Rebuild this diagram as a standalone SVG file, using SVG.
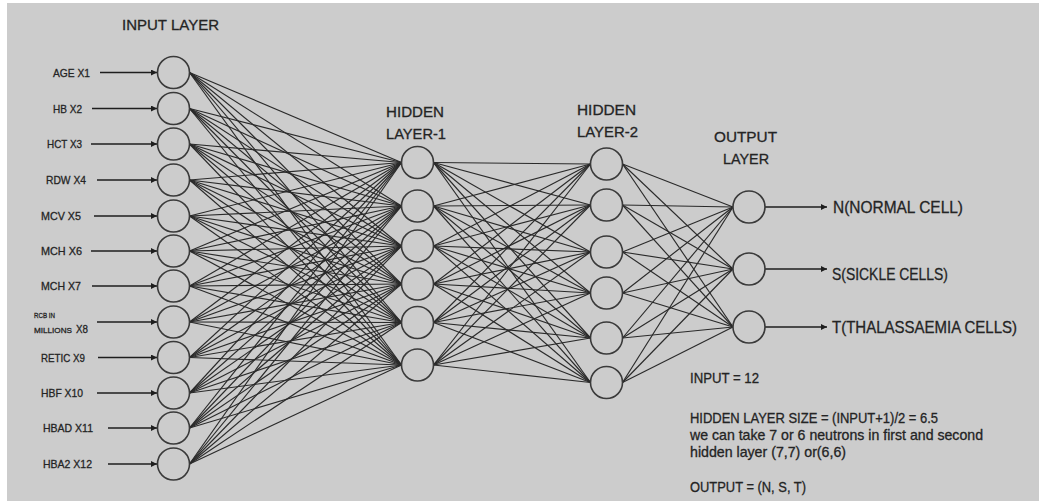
<svg xmlns="http://www.w3.org/2000/svg" width="1039" height="501" viewBox="0 0 1039 501">
<style>
  .node circle{fill:#cccccc;stroke:#3a3a3a;stroke-width:1.6}
  .t{font-family:"Liberation Sans",Arial,sans-serif;fill:#242424;stroke:#242424;stroke-width:0.3}
  .lbl{font-size:11.5px}
  .ttl{font-size:15.5px}
  .out{font-size:16.5px}
  .note{font-size:14.5px}
  #connectors line{stroke:#2a2a2a;stroke-width:1.15}
  #arrows line{stroke:#1e1e1e;stroke-width:1.5}
</style>
<defs>
  <marker id="ah" markerUnits="userSpaceOnUse" markerWidth="6" markerHeight="6" refX="6" refY="3" orient="auto">
    <path d="M0,0 L6,3 L0,6 z" fill="#1e1e1e"/>
  </marker>
</defs>
<rect x="0" y="0" width="1039" height="501" fill="#ffffff"/>
<rect x="7" y="3" width="1032" height="498" fill="#cccccc"/>

<g id="connectors">
  <line x1="189.5" y1="72.5" x2="401.5" y2="162.5"/><line x1="189.5" y1="72.5" x2="401.5" y2="206"/><line x1="189.5" y1="72.5" x2="401.5" y2="246"/><line x1="189.5" y1="72.5" x2="401.5" y2="284"/><line x1="189.5" y1="72.5" x2="401.5" y2="322.5"/><line x1="189.5" y1="72.5" x2="401.5" y2="365"/>
  <line x1="189.5" y1="108.5" x2="401.5" y2="162.5"/><line x1="189.5" y1="108.5" x2="401.5" y2="206"/><line x1="189.5" y1="108.5" x2="401.5" y2="246"/><line x1="189.5" y1="108.5" x2="401.5" y2="284"/><line x1="189.5" y1="108.5" x2="401.5" y2="322.5"/><line x1="189.5" y1="108.5" x2="401.5" y2="365"/>
  <line x1="189.5" y1="144" x2="401.5" y2="162.5"/><line x1="189.5" y1="144" x2="401.5" y2="206"/><line x1="189.5" y1="144" x2="401.5" y2="246"/><line x1="189.5" y1="144" x2="401.5" y2="284"/><line x1="189.5" y1="144" x2="401.5" y2="322.5"/><line x1="189.5" y1="144" x2="401.5" y2="365"/>
  <line x1="189.5" y1="180" x2="401.5" y2="162.5"/><line x1="189.5" y1="180" x2="401.5" y2="206"/><line x1="189.5" y1="180" x2="401.5" y2="246"/><line x1="189.5" y1="180" x2="401.5" y2="284"/><line x1="189.5" y1="180" x2="401.5" y2="322.5"/><line x1="189.5" y1="180" x2="401.5" y2="365"/>
  <line x1="189.5" y1="216" x2="401.5" y2="162.5"/><line x1="189.5" y1="216" x2="401.5" y2="206"/><line x1="189.5" y1="216" x2="401.5" y2="246"/><line x1="189.5" y1="216" x2="401.5" y2="284"/><line x1="189.5" y1="216" x2="401.5" y2="322.5"/><line x1="189.5" y1="216" x2="401.5" y2="365"/>
  <line x1="189.5" y1="251" x2="401.5" y2="162.5"/><line x1="189.5" y1="251" x2="401.5" y2="206"/><line x1="189.5" y1="251" x2="401.5" y2="246"/><line x1="189.5" y1="251" x2="401.5" y2="284"/><line x1="189.5" y1="251" x2="401.5" y2="322.5"/><line x1="189.5" y1="251" x2="401.5" y2="365"/>
  <line x1="189.5" y1="286" x2="401.5" y2="162.5"/><line x1="189.5" y1="286" x2="401.5" y2="206"/><line x1="189.5" y1="286" x2="401.5" y2="246"/><line x1="189.5" y1="286" x2="401.5" y2="284"/><line x1="189.5" y1="286" x2="401.5" y2="322.5"/><line x1="189.5" y1="286" x2="401.5" y2="365"/>
  <line x1="189.5" y1="322" x2="401.5" y2="162.5"/><line x1="189.5" y1="322" x2="401.5" y2="206"/><line x1="189.5" y1="322" x2="401.5" y2="246"/><line x1="189.5" y1="322" x2="401.5" y2="284"/><line x1="189.5" y1="322" x2="401.5" y2="322.5"/><line x1="189.5" y1="322" x2="401.5" y2="365"/>
  <line x1="189.5" y1="357.5" x2="401.5" y2="162.5"/><line x1="189.5" y1="357.5" x2="401.5" y2="206"/><line x1="189.5" y1="357.5" x2="401.5" y2="246"/><line x1="189.5" y1="357.5" x2="401.5" y2="284"/><line x1="189.5" y1="357.5" x2="401.5" y2="322.5"/><line x1="189.5" y1="357.5" x2="401.5" y2="365"/>
  <line x1="189.5" y1="393" x2="401.5" y2="162.5"/><line x1="189.5" y1="393" x2="401.5" y2="206"/><line x1="189.5" y1="393" x2="401.5" y2="246"/><line x1="189.5" y1="393" x2="401.5" y2="284"/><line x1="189.5" y1="393" x2="401.5" y2="322.5"/><line x1="189.5" y1="393" x2="401.5" y2="365"/>
  <line x1="189.5" y1="428" x2="401.5" y2="162.5"/><line x1="189.5" y1="428" x2="401.5" y2="206"/><line x1="189.5" y1="428" x2="401.5" y2="246"/><line x1="189.5" y1="428" x2="401.5" y2="284"/><line x1="189.5" y1="428" x2="401.5" y2="322.5"/><line x1="189.5" y1="428" x2="401.5" y2="365"/>
  <line x1="189.5" y1="464" x2="401.5" y2="162.5"/><line x1="189.5" y1="464" x2="401.5" y2="206"/><line x1="189.5" y1="464" x2="401.5" y2="246"/><line x1="189.5" y1="464" x2="401.5" y2="284"/><line x1="189.5" y1="464" x2="401.5" y2="322.5"/><line x1="189.5" y1="464" x2="401.5" y2="365"/>
  <line x1="433.5" y1="162.5" x2="590.5" y2="164"/><line x1="433.5" y1="162.5" x2="590.5" y2="205"/><line x1="433.5" y1="162.5" x2="590.5" y2="252"/><line x1="433.5" y1="162.5" x2="590.5" y2="293"/><line x1="433.5" y1="162.5" x2="590.5" y2="338"/><line x1="433.5" y1="162.5" x2="590.5" y2="382.5"/>
  <line x1="433.5" y1="206" x2="590.5" y2="164"/><line x1="433.5" y1="206" x2="590.5" y2="205"/><line x1="433.5" y1="206" x2="590.5" y2="252"/><line x1="433.5" y1="206" x2="590.5" y2="293"/><line x1="433.5" y1="206" x2="590.5" y2="338"/><line x1="433.5" y1="206" x2="590.5" y2="382.5"/>
  <line x1="433.5" y1="246" x2="590.5" y2="164"/><line x1="433.5" y1="246" x2="590.5" y2="205"/><line x1="433.5" y1="246" x2="590.5" y2="252"/><line x1="433.5" y1="246" x2="590.5" y2="293"/><line x1="433.5" y1="246" x2="590.5" y2="338"/><line x1="433.5" y1="246" x2="590.5" y2="382.5"/>
  <line x1="433.5" y1="284" x2="590.5" y2="164"/><line x1="433.5" y1="284" x2="590.5" y2="205"/><line x1="433.5" y1="284" x2="590.5" y2="252"/><line x1="433.5" y1="284" x2="590.5" y2="293"/><line x1="433.5" y1="284" x2="590.5" y2="338"/><line x1="433.5" y1="284" x2="590.5" y2="382.5"/>
  <line x1="433.5" y1="322.5" x2="590.5" y2="164"/><line x1="433.5" y1="322.5" x2="590.5" y2="205"/><line x1="433.5" y1="322.5" x2="590.5" y2="252"/><line x1="433.5" y1="322.5" x2="590.5" y2="293"/><line x1="433.5" y1="322.5" x2="590.5" y2="338"/><line x1="433.5" y1="322.5" x2="590.5" y2="382.5"/>
  <line x1="433.5" y1="365" x2="590.5" y2="164"/><line x1="433.5" y1="365" x2="590.5" y2="205"/><line x1="433.5" y1="365" x2="590.5" y2="252"/><line x1="433.5" y1="365" x2="590.5" y2="293"/><line x1="433.5" y1="365" x2="590.5" y2="338"/><line x1="433.5" y1="365" x2="590.5" y2="382.5"/>
  <line x1="622.5" y1="164" x2="733" y2="207"/><line x1="622.5" y1="164" x2="733" y2="269"/><line x1="622.5" y1="164" x2="733" y2="327"/>
  <line x1="622.5" y1="205" x2="733" y2="207"/><line x1="622.5" y1="205" x2="733" y2="269"/><line x1="622.5" y1="205" x2="733" y2="327"/>
  <line x1="622.5" y1="252" x2="733" y2="207"/><line x1="622.5" y1="252" x2="733" y2="269"/><line x1="622.5" y1="252" x2="733" y2="327"/>
  <line x1="622.5" y1="293" x2="733" y2="207"/><line x1="622.5" y1="293" x2="733" y2="269"/><line x1="622.5" y1="293" x2="733" y2="327"/>
  <line x1="622.5" y1="338" x2="733" y2="207"/><line x1="622.5" y1="338" x2="733" y2="269"/><line x1="622.5" y1="338" x2="733" y2="327"/>
  <line x1="622.5" y1="382.5" x2="733" y2="207"/><line x1="622.5" y1="382.5" x2="733" y2="269"/><line x1="622.5" y1="382.5" x2="733" y2="327"/>
</g>

<g id="arrows">
  <line x1="100" y1="72.5" x2="157" y2="72.5" marker-end="url(#ah)"/>
  <line x1="92" y1="108.5" x2="157" y2="108.5" marker-end="url(#ah)"/>
  <line x1="91" y1="144" x2="157" y2="144" marker-end="url(#ah)"/>
  <line x1="97" y1="180" x2="157" y2="180" marker-end="url(#ah)"/>
  <line x1="94" y1="216" x2="157" y2="216" marker-end="url(#ah)"/>
  <line x1="91" y1="251" x2="157" y2="251" marker-end="url(#ah)"/>
  <line x1="92" y1="286" x2="157" y2="286" marker-end="url(#ah)"/>
  <line x1="97" y1="322" x2="157" y2="322" marker-end="url(#ah)"/>
  <line x1="98" y1="357.5" x2="157" y2="357.5" marker-end="url(#ah)"/>
  <line x1="97" y1="393" x2="157" y2="393" marker-end="url(#ah)"/>
  <line x1="108" y1="428" x2="157" y2="428" marker-end="url(#ah)"/>
  <line x1="108" y1="464" x2="157" y2="464" marker-end="url(#ah)"/>
  <line x1="765" y1="207" x2="827" y2="207" marker-end="url(#ah)"/>
  <line x1="765" y1="269" x2="827" y2="269" marker-end="url(#ah)"/>
  <line x1="765" y1="327" x2="827" y2="327" marker-end="url(#ah)"/>
</g>

<g id="input-layer">
  <text class="t ttl" x="122" y="30" textLength="97" lengthAdjust="spacingAndGlyphs">INPUT LAYER</text>
  <g id="in1" class="node"><circle cx="173.5" cy="72.5" r="16"/><text class="t lbl" x="53" y="76.5" textLength="37" lengthAdjust="spacingAndGlyphs">AGE X1</text></g>
  <g id="in2" class="node"><circle cx="173.5" cy="108.5" r="16"/><text class="t lbl" x="53" y="112.5" textLength="29" lengthAdjust="spacingAndGlyphs">HB X2</text></g>
  <g id="in3" class="node"><circle cx="173.5" cy="144" r="16"/><text class="t lbl" x="47" y="148" textLength="35" lengthAdjust="spacingAndGlyphs">HCT X3</text></g>
  <g id="in4" class="node"><circle cx="173.5" cy="180" r="16"/><text class="t lbl" x="46" y="184" textLength="40" lengthAdjust="spacingAndGlyphs">RDW X4</text></g>
  <g id="in5" class="node"><circle cx="173.5" cy="216" r="16"/><text class="t lbl" x="41" y="220" textLength="40" lengthAdjust="spacingAndGlyphs">MCV X5</text></g>
  <g id="in6" class="node"><circle cx="173.5" cy="251" r="16"/><text class="t lbl" x="41" y="255" textLength="41" lengthAdjust="spacingAndGlyphs">MCH X6</text></g>
  <g id="in7" class="node"><circle cx="173.5" cy="286" r="16"/><text class="t lbl" x="41" y="290" textLength="40" lengthAdjust="spacingAndGlyphs">MCH X7</text></g>
  <g id="in8" class="node"><circle cx="173.5" cy="322" r="16"/>
    <text class="t" font-size="7.5" stroke-width="0.15" x="34" y="318" textLength="21" lengthAdjust="spacingAndGlyphs">RCB IN</text>
    <text class="t" font-size="8" stroke-width="0.15" x="34" y="333" textLength="38" lengthAdjust="spacingAndGlyphs">MILLIONS</text>
    <text class="t lbl" x="76" y="333" textLength="12" lengthAdjust="spacingAndGlyphs">X8</text></g>
  <g id="in9" class="node"><circle cx="173.5" cy="357.5" r="16"/><text class="t lbl" x="41" y="361.5" textLength="44" lengthAdjust="spacingAndGlyphs">RETIC X9</text></g>
  <g id="in10" class="node"><circle cx="173.5" cy="393" r="16"/><text class="t lbl" x="41" y="397" textLength="42" lengthAdjust="spacingAndGlyphs">HBF X10</text></g>
  <g id="in11" class="node"><circle cx="173.5" cy="428" r="16"/><text class="t lbl" x="43" y="432" textLength="50" lengthAdjust="spacingAndGlyphs">HBAD X11</text></g>
  <g id="in12" class="node"><circle cx="173.5" cy="464" r="16"/><text class="t lbl" x="43" y="468" textLength="49" lengthAdjust="spacingAndGlyphs">HBA2 X12</text></g>
</g>

<g id="hidden-layer-1">
  <text class="t ttl" x="386" y="117" textLength="58" lengthAdjust="spacingAndGlyphs">HIDDEN</text>
  <text class="t ttl" x="386" y="139" textLength="60" lengthAdjust="spacingAndGlyphs">LAYER-1</text>
  <g id="h1n1" class="node"><circle cx="417.5" cy="162.5" r="16"/></g>
  <g id="h1n2" class="node"><circle cx="417.5" cy="206" r="16"/></g>
  <g id="h1n3" class="node"><circle cx="417.5" cy="246" r="16"/></g>
  <g id="h1n4" class="node"><circle cx="417.5" cy="284" r="16"/></g>
  <g id="h1n5" class="node"><circle cx="417.5" cy="322.5" r="16"/></g>
  <g id="h1n6" class="node"><circle cx="417.5" cy="365" r="16"/></g>
</g>

<g id="hidden-layer-2">
  <text class="t ttl" x="577" y="115" textLength="59" lengthAdjust="spacingAndGlyphs">HIDDEN</text>
  <text class="t ttl" x="577" y="137" textLength="61" lengthAdjust="spacingAndGlyphs">LAYER-2</text>
  <g id="h2n1" class="node"><circle cx="606.5" cy="164" r="16"/></g>
  <g id="h2n2" class="node"><circle cx="606.5" cy="205" r="16"/></g>
  <g id="h2n3" class="node"><circle cx="606.5" cy="252" r="16"/></g>
  <g id="h2n4" class="node"><circle cx="606.5" cy="293" r="16"/></g>
  <g id="h2n5" class="node"><circle cx="606.5" cy="338" r="16"/></g>
  <g id="h2n6" class="node"><circle cx="606.5" cy="382.5" r="16"/></g>
</g>

<g id="output-layer">
  <text class="t ttl" x="714" y="142" textLength="63" lengthAdjust="spacingAndGlyphs">OUTPUT</text>
  <text class="t ttl" x="723" y="164" textLength="46" lengthAdjust="spacingAndGlyphs">LAYER</text>
  <g id="outN" class="node"><circle cx="749" cy="207" r="16"/><text class="t out" x="833" y="213" textLength="130" lengthAdjust="spacingAndGlyphs">N(NORMAL CELL)</text></g>
  <g id="outS" class="node"><circle cx="749" cy="269" r="16"/><text class="t out" x="832" y="280" textLength="116" lengthAdjust="spacingAndGlyphs">S(SICKLE CELLS)</text></g>
  <g id="outT" class="node"><circle cx="749" cy="327" r="16"/><text class="t out" x="832" y="333" textLength="185" lengthAdjust="spacingAndGlyphs">T(THALASSAEMIA CELLS)</text></g>
</g>

<g id="notes">
  <text class="t note" x="690" y="383" textLength="69" lengthAdjust="spacingAndGlyphs">INPUT = 12</text>
  <text class="t note" x="690" y="423" textLength="248" lengthAdjust="spacingAndGlyphs">HIDDEN LAYER SIZE = (INPUT+1)/2 = 6.5</text>
  <text class="t note" x="690" y="440" textLength="293" lengthAdjust="spacingAndGlyphs">we can take 7 or 6 neutrons in first and second</text>
  <text class="t note" x="690" y="457" textLength="156" lengthAdjust="spacingAndGlyphs">hidden layer (7,7) or(6,6)</text>
  <text class="t note" x="690" y="492" textLength="116" lengthAdjust="spacingAndGlyphs">OUTPUT = (N, S, T)</text>
</g>
</svg>
